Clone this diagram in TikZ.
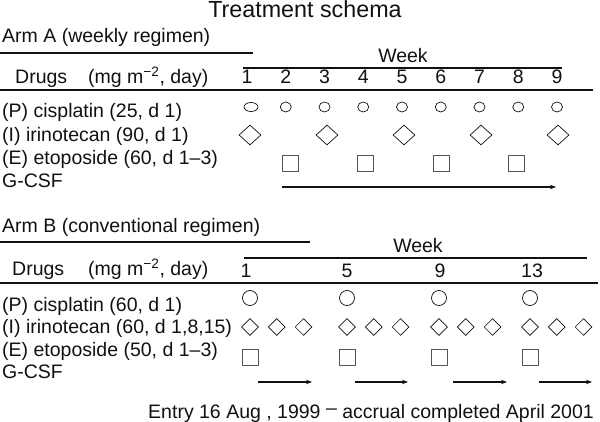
\documentclass[tikz,border=0pt]{standalone}
\usepackage{fontspec}
\setmainfont{Liberation Sans}
\usetikzlibrary{arrows.meta,shapes.geometric,positioning}
\definecolor{ink}{HTML}{111111}
\definecolor{boxink}{HTML}{555555}

\begin{document}
\begin{tikzpicture}[x=1pt,y=-1pt,
  txt/.style={font=\fontsize{19.5}{22}\selectfont,inner sep=0pt,text=ink},
  lbl/.style={txt,anchor=base west},
  rule/.style={line width=1.3pt,draw=ink},
  dot/.style={draw=ink,ellipse,line width=0.7pt,inner sep=0pt,minimum width=11pt,minimum height=10pt},
  diam/.style={draw=ink,diamond,line width=0.7pt,inner sep=0pt,minimum width=22pt,minimum height=20pt},
  sq/.style={draw=boxink,rectangle,line width=0.8pt,inner sep=0pt,minimum size=16pt},
  gcsf/.style={line width=1.2pt,draw=ink,-{Stealth[length=6pt,width=4.5pt]}}]
 \useasboundingbox(0,0)rectangle(600,422);
 \node[txt,anchor=base,font=\fontsize{23.3}{26}\selectfont](title)at(305,18){Treatment schema};
 % Arm A
 \node[lbl](armA)at(2,43){Arm A (weekly regimen)};
 \draw[rule](0,53)--(253,53);
 \node[txt,anchor=base](weekA)at(403,63){Week};
 \draw[rule](243,68)--(562,68);
 \node[lbl](drugsA)at(15,84){Drugs};
 \node[lbl](unitA)at(88,84){(mg m\textsuperscript{−2}, day)};
 \foreach \k in {1,...,9}{\node[txt,anchor=base](a\k)at({247+(\k-1)*38.75},84){\k};}
 \draw[rule](0,90)--(593,90);
 \foreach \y/\t in {118/(P) cisplatin (25{,} d 1),142/(I) irinotecan (90{,} d 1),165/(E) etoposide (60{,} d 1–3),188/G-CSF}{\node[lbl]at(2,\y){\t};}
 \node[dot,minimum width=14pt,minimum height=9pt](pA1)at(251,107){};
 \foreach \k in {2,...,9}{\node[dot](pA\k)at({247+(\k-1)*38.75},107){};}
 \foreach \k in {1,3,5,7,9}{\node[diam](iA\k)at({250+(\k-1)*38.5},135){};}
 \foreach \k in {2,4,6,8}{\node[sq](eA\k)at({290+(\k-2)*37.8},163){};}
 \coordinate(gA0)at(282,187);\coordinate(gA1)at(556,187);
 \draw[gcsf](gA0)--(gA1);
 % Arm B
 \node[lbl](armB)at(2,233){Arm B (conventional regimen)};
 \draw[rule](0,242)--(310,242);
 \node[txt,anchor=base](weekB)at(418,253){Week};
 \draw[rule](244,258)--(587,258);
 \node[lbl](drugsB)at(12,276){Drugs};
 \node[lbl](unitB)at(88,276){(mg m\textsuperscript{−2}, day)};
 \foreach \x/\w in {246/1,347/5,440/9,532/13}{\node[txt,anchor=base](b\w)at(\x,278){\w};}
 \draw[rule](0,283)--(598,283);
 \foreach \y/\t in {312/(P) cisplatin (60{,} d 1),334/(I) irinotecan (60{,} d 1{,}8{,}15),356/(E) etoposide (50{,} d 1–3),378/G-CSF}{\node[lbl]at(2,\y){\t};}
 \foreach \x/\w in {250/1,347/5,439/9,530/13}{
  \node[dot,minimum size=15pt](pB\w)at(\x,298){};
  \foreach \d in {0,1,2}{\node[diam,minimum width=17pt,minimum height=17pt](iB\w\d)at(\x+\d*26.8,327){};}
  \node[sq](eB\w)at(\x,357){};}
 \foreach \a/\b/\w in {258/312/1,355/408/5,453/507/9,539/592/13}{
  \coordinate(gB\w0)at(\a,382);\coordinate(gB\w1)at(\b,382);
  \draw[gcsf](gB\w0)--(gB\w1);}
 \node[txt,anchor=base](entry)at(371,418){Entry 16 Aug , 1999 \raisebox{0.35ex}{–} accrual completed April 2001};
\end{tikzpicture}
\end{document}
